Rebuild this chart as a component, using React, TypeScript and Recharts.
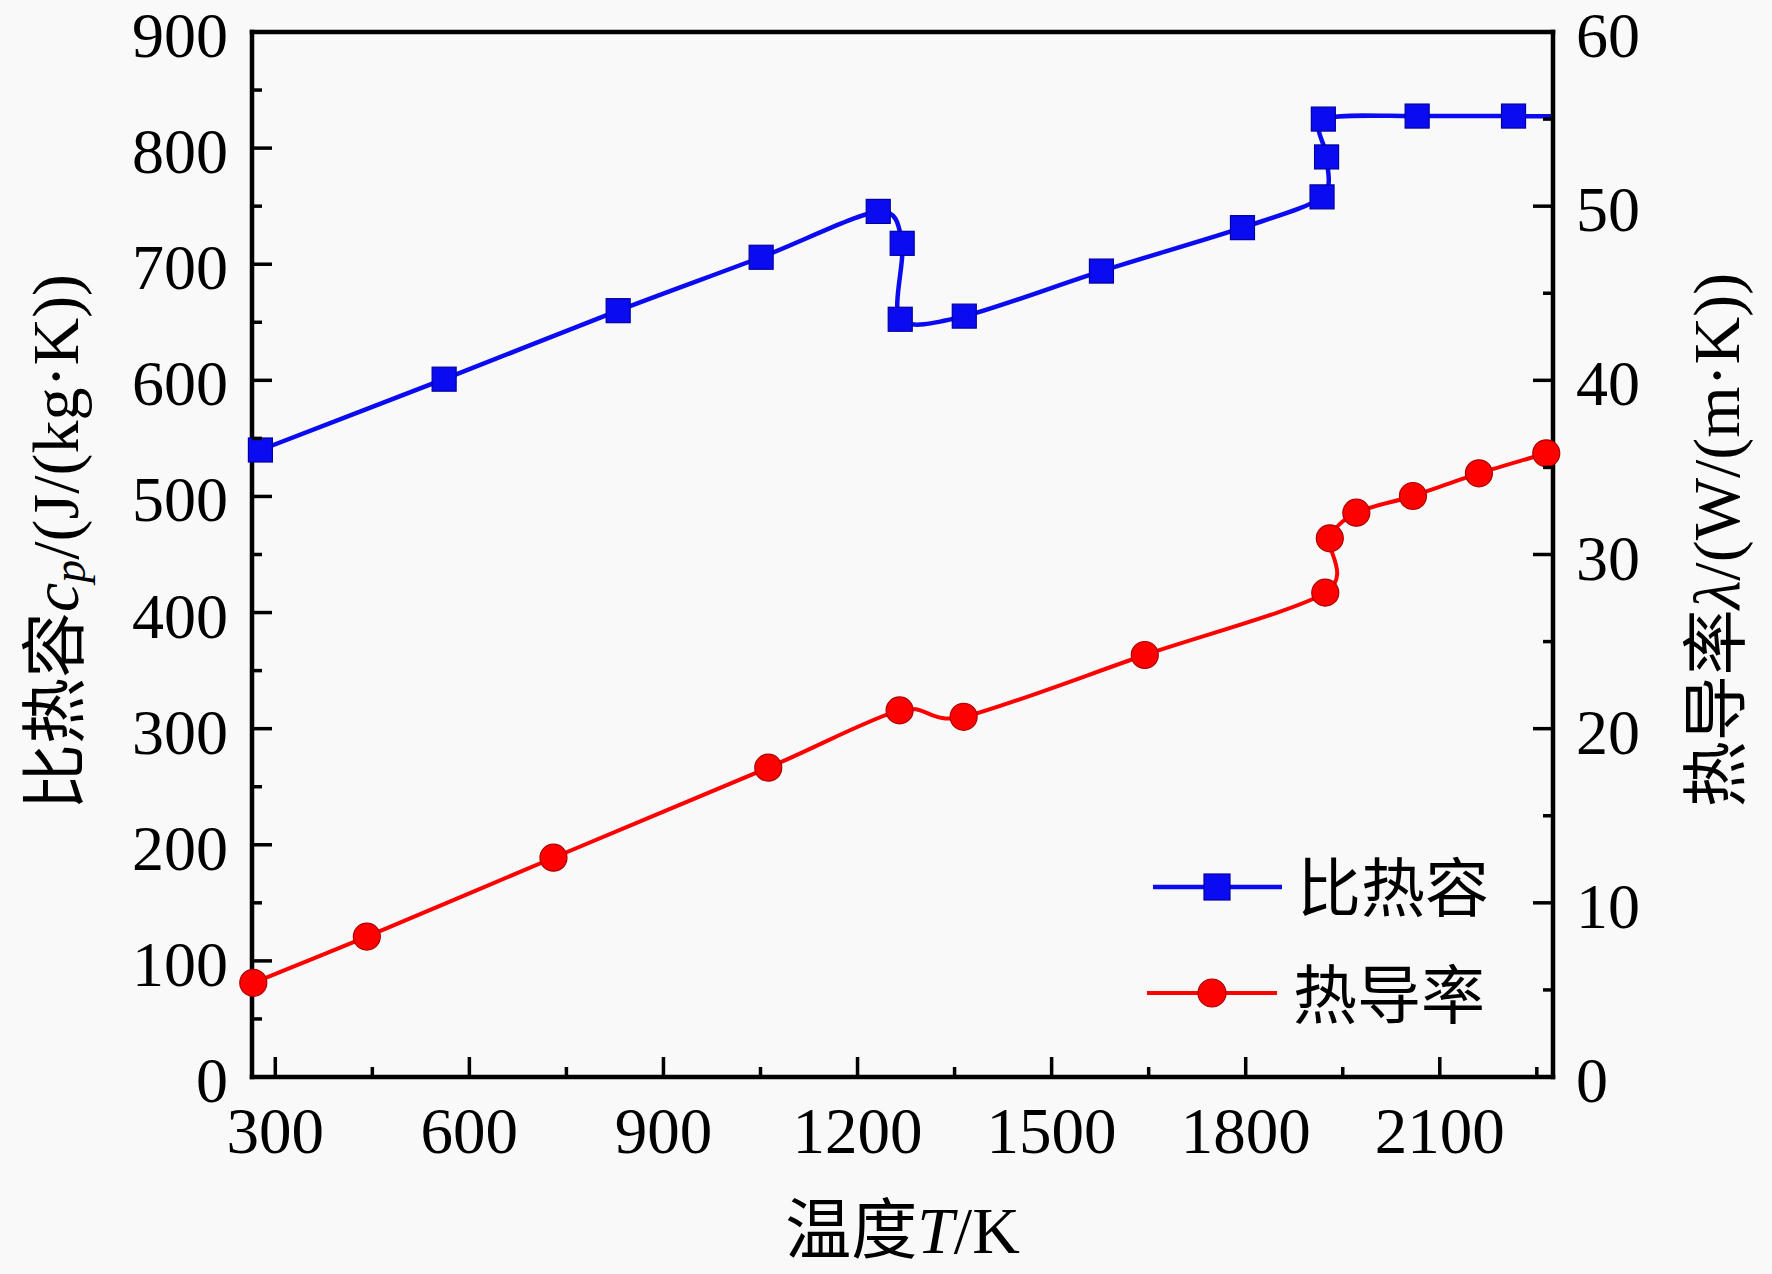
import { LineChart, Line, XAxis, YAxis, ReferenceLine, Legend } from "recharts"

const SERIF = '"Liberation Serif", "Times New Roman", "Noto Sans CJK SC", serif'
const BLUE = "#0b0bf2"
const RED = "#ff0000"

// 比热容 c_p, J/(kg·K)
const cpTemps = [277, 561, 830, 1051, 1232, 1269, 1266, 1365, 1577, 1795, 1918, 1925, 1920, 2065, 2214, 2275]
const cpValues = [540, 601, 660, 706, 745.5, 718, 652.6, 655.3, 694.1, 731.5, 758, 792.4, 825, 827.6, 827.6, 827.4]

// 热导率 λ, W/(m·K)
const lambdaTemps = [266, 441.5, 730, 1062, 1265, 1364, 1644, 1923, 1930, 1971, 2058.5, 2160.5, 2264.6]
const lambdaValues = [5.41, 8.06, 12.59, 17.76, 21.05, 20.68, 24.23, 27.81, 30.93, 32.4, 33.36, 34.66, 35.81]

const xDomain = [264, 2275]
const xTicks = [300, 450, 600, 750, 900, 1050, 1200, 1350, 1500, 1650, 1800, 1950, 2100, 2250]
const cpTicks = [0, 50, 100, 150, 200, 250, 300, 350, 400, 450, 500, 550, 600, 650, 700, 750, 800, 850, 900]
const lambdaTicks = [0, 5, 10, 15, 20, 25, 30, 35, 40, 45, 50, 55, 60]

const cpData = cpTemps.map((T, i) => ({ T, cp: cpValues[i] }))
const lambdaData = lambdaTemps.map((T, i) => ({ T, lambda: lambdaValues[i] }))

// catmull-rom style spline with a bit of tension, close to the original spline connection
const smoothCurve = (context: any) => {
  let pts: number[][] = []
  const k = 1 / 7
  return {
    areaStart() {},
    areaEnd() {},
    lineStart() {
      pts = []
    },
    point(x: number, y: number) {
      pts.push([+x, +y])
    },
    lineEnd() {
      if (!pts.length) return
      context.moveTo(pts[0][0], pts[0][1])
      for (let i = 0; i < pts.length - 1; i++) {
        const p0 = pts[Math.max(i - 1, 0)]
        const p1 = pts[i]
        const p2 = pts[i + 1]
        const p3 = pts[Math.min(i + 2, pts.length - 1)]
        context.bezierCurveTo(
          p1[0] + (p2[0] - p0[0]) * k,
          p1[1] + (p2[1] - p0[1]) * k,
          p2[0] - (p3[0] - p1[0]) * k,
          p2[1] - (p3[1] - p1[1]) * k,
          p2[0],
          p2[1]
        )
      }
    },
  }
}

const SquareDot = (props: any) => {
  const { cx, cy, payload, index } = props
  if (cx == null || payload.T >= xDomain[1]) return <g key={index} />
  return <rect key={index} x={cx - 12} y={cy - 12} width={24} height={24} fill={BLUE} stroke="#0000a0" strokeWidth={1.2} />
}

const CircleDot = (props: any) => {
  const { cx, cy, index } = props
  if (cx == null) return <g key={index} />
  return <circle key={index} cx={cx} cy={cy} r={13.5} fill={RED} stroke="#b00000" strokeWidth={1.2} />
}

const BottomTick = ({ x, y, payload }: any) => {
  const major = payload.value % 300 === 0
  return (
    <g>
      <line x1={x} x2={x} y1={y} y2={y - (major ? 20 : 10)} stroke="#000" strokeWidth={3.5} />
      {major && (
        <text x={x} y={y + 76} textAnchor="middle" fontSize={65} fontFamily={SERIF} fill="#000">
          {payload.value}
        </text>
      )}
    </g>
  )
}

const LeftTick = ({ x, y, payload }: any) => {
  const major = payload.value % 100 === 0
  return (
    <g>
      <line x1={x} x2={x + (major ? 20 : 10)} y1={y} y2={y} stroke="#000" strokeWidth={3.5} />
      {major && (
        <text x={x - 24} y={y + 25} textAnchor="end" fontSize={64} fontFamily={SERIF} fill="#000">
          {payload.value}
        </text>
      )}
    </g>
  )
}

const RightTick = ({ x, y, payload }: any) => {
  const major = payload.value % 10 === 0
  return (
    <g>
      <line x1={x} x2={x - (major ? 20 : 10)} y1={y} y2={y} stroke="#000" strokeWidth={3.5} />
      {major && (
        <text x={x + 23} y={y + 25} textAnchor="start" fontSize={64} fontFamily={SERIF} fill="#000">
          {payload.value}
        </text>
      )}
    </g>
  )
}

const XTitle = ({ viewBox }: any) => {
  const cx = viewBox.x + viewBox.width / 2
  return (
    <text x={cx} y={viewBox.y + 176} textAnchor="middle" fontSize={66} fontFamily={SERIF} fill="#000">
      温度<tspan fontStyle="italic">T</tspan>/K
    </text>
  )
}

const LeftTitle = () => {
  const cx = 55
  const cy = 542
  return (
    <text
      x={cx}
      y={cy}
      transform={`rotate(-90, ${cx}, ${cy})`}
      textAnchor="middle"
      dominantBaseline="central"
      fontSize={66}
      fontFamily={SERIF}
      fill="#000"
    >
      比热容<tspan fontStyle="italic">c</tspan>
      <tspan fontStyle="italic" fontSize={46} dy={14}>p</tspan>
      <tspan dy={-14}>/(J/(kg·K))</tspan>
    </text>
  )
}

const RightTitle = () => {
  const cx = 1716
  const cy = 540
  return (
    <text
      x={cx}
      y={cy}
      transform={`rotate(-90, ${cx}, ${cy})`}
      textAnchor="middle"
      dominantBaseline="central"
      fontSize={66}
      fontFamily={SERIF}
      fill="#000"
    >
      热导率<tspan fontStyle="italic">λ</tspan>/(W/(m·K))
    </text>
  )
}

const LegendBox = () => (
  <svg width={420} height={220}>
    <line x1={13} x2={142} y1={57} y2={57} stroke={BLUE} strokeWidth={4.5} />
    <rect x={64} y={44} width={26} height={26} fill={BLUE} stroke="#0000a0" strokeWidth={1.2} />
    <text x={157} y={59} dominantBaseline="central" fontSize={64} fontFamily={SERIF} fill="#000">
      比热容
    </text>
    <line x1={7} x2={137} y1={163} y2={163} stroke={RED} strokeWidth={4} />
    <circle cx={72} cy={163} r={14} fill={RED} stroke="#b00000" strokeWidth={1.2} />
    <text x={153} y={166} dominantBaseline="central" fontSize={64} fontFamily={SERIF} fill="#000">
      热导率
    </text>
  </svg>
)

export default function App() {
  return (
    <div style={{ position: "absolute", left: 0, top: 0, width: 1772, height: 1274, background: "#f9f9f9" }}>
      <LineChart width={1772} height={1274} margin={{ top: 32, right: 0, bottom: 0, left: 0 }}>
        <XAxis
          dataKey="T"
          type="number"
          domain={xDomain}
          ticks={xTicks}
          interval={0}
          height={197}
          tickSize={0}
          tickMargin={0}
          tickLine={false}
          tick={BottomTick}
          axisLine={{ stroke: "#000", strokeWidth: 4.5, strokeLinecap: "square" }}
          label={<XTitle />}
        />
        <YAxis
          yAxisId="left"
          type="number"
          domain={[0, 900]}
          ticks={cpTicks}
          interval={0}
          width={252}
          tickSize={0}
          tickMargin={0}
          tickLine={false}
          tick={LeftTick}
          axisLine={{ stroke: "#000", strokeWidth: 4.5, strokeLinecap: "square" }}
          label={<LeftTitle />}
        />
        <YAxis
          yAxisId="right"
          orientation="right"
          type="number"
          domain={[0, 60]}
          ticks={lambdaTicks}
          interval={0}
          width={219}
          tickSize={0}
          tickMargin={0}
          tickLine={false}
          tick={RightTick}
          axisLine={{ stroke: "#000", strokeWidth: 4.5, strokeLinecap: "square" }}
          label={<RightTitle />}
        />
        <ReferenceLine yAxisId="left" y={900} stroke="#000" strokeWidth={4.5} strokeLinecap="square" />
        <Line
          data={cpData}
          dataKey="cp"
          yAxisId="left"
          type={smoothCurve as any}
          stroke={BLUE}
          strokeWidth={4.5}
          dot={SquareDot}
          activeDot={false}
          isAnimationActive={false}
        />
        <Line
          data={lambdaData}
          dataKey="lambda"
          yAxisId="right"
          type={smoothCurve as any}
          stroke={RED}
          strokeWidth={4}
          dot={CircleDot}
          activeDot={false}
          isAnimationActive={false}
        />
        <Legend
          content={LegendBox}
          layout="vertical"
          align="center"
          verticalAlign="middle"
          wrapperStyle={{ left: 1140, top: 830, width: 420, height: 220 }}
        />
      </LineChart>
    </div>
  )
}
